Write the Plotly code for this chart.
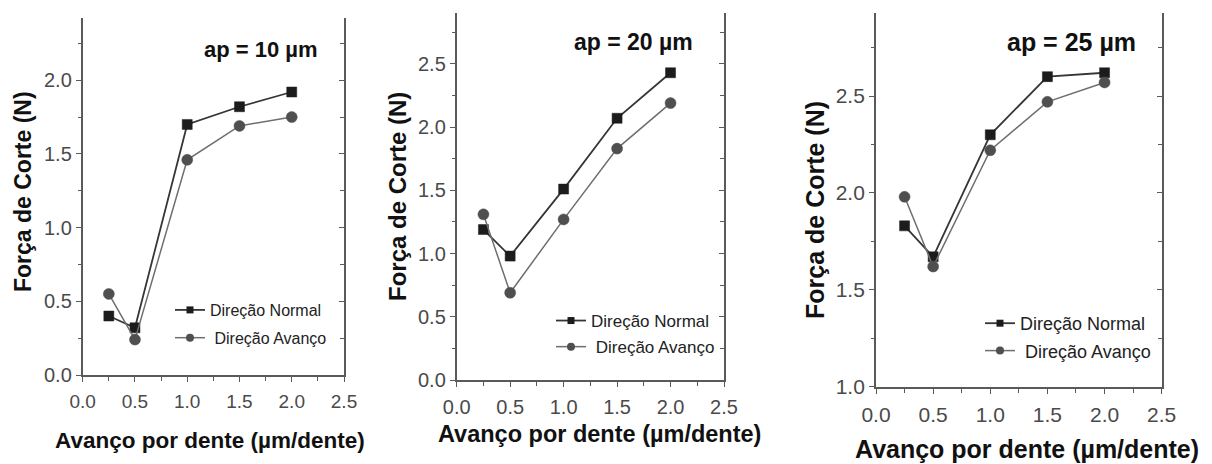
import plotly.graph_objects as go

# Feed per tooth (µm/dente) shared by all three panels
avanco = [0.25, 0.5, 1.0, 1.5, 2.0]

# Cutting force (N) for each depth of cut
normal_10 = [0.40, 0.32, 1.70, 1.82, 1.92]
avanco_10 = [0.55, 0.24, 1.46, 1.69, 1.75]

normal_20 = [1.19, 0.98, 1.51, 2.07, 2.43]
avanco_20 = [1.31, 0.69, 1.27, 1.83, 2.19]

normal_25 = [1.83, 1.67, 2.30, 2.60, 2.62]
avanco_25 = [1.98, 1.62, 2.22, 2.47, 2.57]

titulos = ["ap = 10 µm", "ap = 20 µm", "ap = 25 µm"]
nome_normal = "Direção Normal"
nome_avanco = "Direção Avanço"
x_ticks = [0.0, 0.5, 1.0, 1.5, 2.0, 2.5]
x_ticktext = ["0.0", "0.5", "1.0", "1.5", "2.0", "2.5"]
y_ticks = [[0.0, 0.5, 1.0, 1.5, 2.0],
           [0.0, 0.5, 1.0, 1.5, 2.0, 2.5],
           [1.0, 1.5, 2.0, 2.5]]
y_ticktext = [["0.0", "0.5", "1.0", "1.5", "2.0"],
              ["0.0", "0.5", "1.0", "1.5", "2.0", "2.5"],
              ["1.0", "1.5", "2.0", "2.5"]]

W, H = 1212, 464
FONT = "Liberation Sans, Arial, sans-serif"
AXIS_COLOR = "#5a5a5a"
TICK_COLOR = "#4a4a4a"

# Pixel layout of each panel: plot box, y range, fonts, legend anchor, labels
panels = [
    dict(x0=82.7, x1=344.0, ytop=18.3, ybot=375.0, yrange=[0, 2.42],
         tick_x=19, tick_y=20, leg_font=16, leg_x=170, leg_y=293, leg_gap=4,
         title_xy=(260.5, 49), title_size=22,
         xt_xy=(210, 440), xt_size=22.5, yt_xy=(23, 192), yt_size=23,
         normal=normal_10, av=avanco_10),
    dict(x0=456.7, x1=724.0, ytop=12.7, ybot=380.0, yrange=[0, 2.905],
         tick_x=20, tick_y=20, leg_font=17, leg_x=551, leg_y=303, leg_gap=1,
         title_xy=(633, 42), title_size=23,
         xt_xy=(599, 434), xt_size=23.5, yt_xy=(398, 197), yt_size=24,
         normal=normal_20, av=avanco_20),
    dict(x0=876.0, x1=1161.7, ytop=12.7, ybot=386.7, yrange=[1.0, 2.93],
         tick_x=21, tick_y=21, leg_font=18, leg_x=980, leg_y=305, leg_gap=1,
         title_xy=(1071, 42), title_size=25,
         xt_xy=(1027, 449), xt_size=25, yt_xy=(815, 210), yt_size=25,
         normal=normal_25, av=avanco_25),
]

fig = go.Figure()
layout = dict(
    width=W, height=H,
    margin=dict(l=0, r=0, t=0, b=0, autoexpand=False),
    paper_bgcolor="white", plot_bgcolor="white",
    font=dict(family=FONT, color="#222222"),
    annotations=[],
    showlegend=True,
)

for i, p in enumerate(panels):
    k = i + 1
    sx = "" if k == 1 else str(k)
    xa, ya = "x" + sx, "y" + sx
    yr = "y" + str(k + 3)          # right-hand frame axis of this panel
    leg = "legend" if k == 1 else "legend" + str(k)

    xdom = [p["x0"] / W, p["x1"] / W]
    ydom = [1 - p["ybot"] / H, 1 - p["ytop"] / H]

    layout["xaxis" + sx] = dict(
        domain=xdom, anchor=ya, range=[0, 2.5], automargin=False,
        tickvals=x_ticks, ticktext=x_ticktext,
        ticks="outside", ticklen=5, tickwidth=1.4, tickcolor=AXIS_COLOR,
        minor=dict(dtick=0.25, tick0=0, ticks="outside", ticklen=4,
                   tickwidth=1.3, tickcolor=AXIS_COLOR),
        showline=True, linecolor=AXIS_COLOR, linewidth=1.8, mirror=False,
        showgrid=False, zeroline=False, fixedrange=True,
        ticklabelstandoff=3,
        tickfont=dict(family=FONT, size=p["tick_x"], color=TICK_COLOR),
    )
    layout["yaxis" + sx] = dict(
        domain=ydom, anchor=xa, range=p["yrange"], automargin=False,
        tickvals=y_ticks[i], ticktext=y_ticktext[i],
        ticks="outside", ticklen=5, tickwidth=1.4, tickcolor=AXIS_COLOR,
        minor=dict(dtick=0.25, tick0=0, ticks="outside", ticklen=3,
                   tickwidth=1.3, tickcolor=AXIS_COLOR),
        showline=True, linecolor=AXIS_COLOR, linewidth=1.8, mirror=False,
        showgrid=False, zeroline=False, fixedrange=True,
        ticklabelstandoff=0,
        tickfont=dict(family=FONT, size=p["tick_y"], color=TICK_COLOR),
    )
    layout["yaxis" + str(k + 3)] = dict(
        overlaying=ya, anchor=xa, side="right", range=p["yrange"],
        automargin=False,
        tickvals=y_ticks[i], showticklabels=False,
        ticks="inside", ticklen=5, tickwidth=1.4, tickcolor=AXIS_COLOR,
        minor=dict(dtick=0.25, tick0=0, ticks="inside", ticklen=4,
                   tickwidth=1.3, tickcolor=AXIS_COLOR),
        showline=True, linecolor=AXIS_COLOR, linewidth=1.8,
        showgrid=False, zeroline=False, fixedrange=True,
    )
    layout[leg] = dict(
        x=p["leg_x"] / W, y=1 - p["leg_y"] / H, xanchor="left", yanchor="top",
        bgcolor="rgba(0,0,0,0)", borderwidth=0, tracegroupgap=p["leg_gap"],
        font=dict(family=FONT, size=p["leg_font"], color="#222222"),
        itemwidth=30,
    )

    # Measured series
    fig.add_trace(go.Scatter(
        x=avanco, y=p["normal"], xaxis=xa, yaxis=ya, mode="lines+markers",
        name=nome_normal, showlegend=False,
        line=dict(color="#363636", width=1.8),
        marker=dict(symbol="square", size=10, color="#1c1c1c",
                    line=dict(color="#1c1c1c", width=0.5)),
    ))
    fig.add_trace(go.Scatter(
        x=avanco, y=p["av"], xaxis=xa, yaxis=ya, mode="lines+markers",
        name=nome_avanco, showlegend=False,
        line=dict(color="#6e6e6e", width=1.5),
        marker=dict(symbol="circle", size=11, color="#4f4f4f",
                    line=dict(color="#4f4f4f", width=0.5)),
    ))
    # Legend entries with smaller symbols, one group each for extra spacing
    fig.add_trace(go.Scatter(
        x=[None], y=[None], xaxis=xa, yaxis=ya, mode="lines+markers",
        name=nome_normal, legend=leg, legendgroup="n%d" % k, hoverinfo="skip",
        line=dict(color="#363636", width=1.8),
        marker=dict(symbol="square", size=7, color="#1c1c1c"),
    ))
    fig.add_trace(go.Scatter(
        x=[None], y=[None], xaxis=xa, yaxis=ya, mode="lines+markers",
        name="\u00a0" + nome_avanco, legend=leg, legendgroup="a%d" % k,
        hoverinfo="skip",
        line=dict(color="#6e6e6e", width=1.5),
        marker=dict(symbol="circle", size=8, color="#4f4f4f"),
    ))
    # Empty trace that keeps the right-hand frame axis drawn
    fig.add_trace(go.Scatter(
        x=[None], y=[None], xaxis=xa, yaxis=yr, mode="lines",
        showlegend=False, hoverinfo="skip",
    ))

    tx, ty = p["title_xy"]
    layout["annotations"].append(dict(
        text="<b>%s</b>" % titulos[i], xref="paper", yref="paper",
        x=tx / W, y=1 - ty / H, xanchor="center", yanchor="middle",
        showarrow=False, font=dict(family=FONT, size=p["title_size"], color="#111111"),
    ))
    ax_, ay_ = p["xt_xy"]
    layout["annotations"].append(dict(
        text="<b>Avanço por dente (µm/dente)</b>", xref="paper", yref="paper",
        x=ax_ / W, y=1 - ay_ / H, xanchor="center", yanchor="middle",
        showarrow=False, font=dict(family=FONT, size=p["xt_size"], color="#111111"),
    ))
    bx, by = p["yt_xy"]
    layout["annotations"].append(dict(
        text="<b>Força de Corte (N)</b>", xref="paper", yref="paper",
        x=bx / W, y=1 - by / H, xanchor="center", yanchor="middle",
        textangle=-90, showarrow=False,
        font=dict(family=FONT, size=p["yt_size"], color="#111111"),
    ))

fig.update_layout(**layout)
fig.write_html("out.html")
